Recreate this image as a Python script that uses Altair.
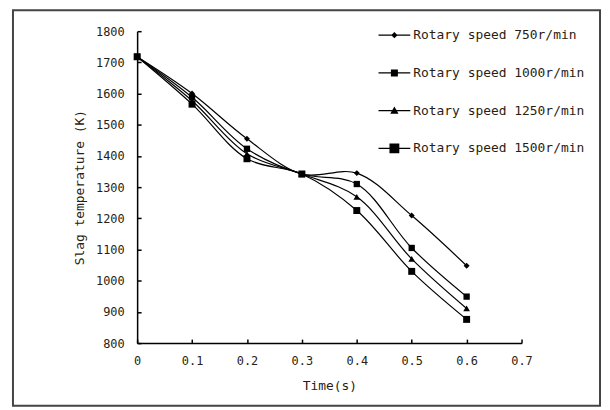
import altair as alt
import pandas as pd

# ---- data ----
times = [0.0, 0.1, 0.2, 0.3, 0.4, 0.5, 0.6]
series = ["Rotary speed 750r/min", "Rotary speed 1000r/min",
          "Rotary speed 1250r/min", "Rotary speed 1500r/min"]
temp_750 = [1718, 1600, 1455, 1342, 1345, 1209, 1048]
temp_1000 = [1718, 1588, 1423, 1342, 1310, 1105, 949]
temp_1250 = [1718, 1577, 1407, 1342, 1269, 1070, 911]
temp_1500 = [1718, 1566, 1391, 1342, 1225, 1030, 876]
x_ticks = [0, 0.1, 0.2, 0.3, 0.4, 0.5, 0.6, 0.7]
y_ticks = [800, 900, 1000, 1100, 1200, 1300, 1400, 1500, 1600, 1700, 1800]

rows = []
for name, vals in zip(series, [temp_750, temp_1000, temp_1250, temp_1500]):
    for t, v in zip(times, vals):
        rows.append({"time": t, "temp": v, "series": name})
df = pd.DataFrame(rows)

W, H = 387, 314
FONT = "DejaVu Sans Mono"
TXT = "#2a1d12"

xs = alt.Scale(domain=[0, 0.7], nice=False, zero=False)
ys = alt.Scale(domain=[800, 1800], nice=False, zero=False)

marker_shapes = ["diamond", "square", "triangle-up", "square"]
marker_sizes = [36, 49, 50, 100]
legend_paths = [
    "M-1,-0.035H1V0.035H-1ZM0,-0.2L0.2,0L0,0.2L-0.2,0Z",
    "M-1,-0.035H1V0.035H-1ZM-0.22,-0.22H0.22V0.22H-0.22Z",
    "M-1,-0.035H1V0.035H-1ZM0,-0.26L0.26,0.2H-0.26Z",
    "M-1,-0.035H1V0.035H-1ZM-0.31,-0.31H0.31V0.31H-0.31Z",
]

base = alt.Chart(df)

lines = base.mark_line(interpolate="catmull-rom", color="black", strokeWidth=1.2).encode(
    x=alt.X("time:Q", scale=xs,
            axis=alt.Axis(orient="bottom", values=x_ticks, format="~g", ticks=False,
                          grid=False, title="Time(s)", labelPadding=13, labelFlush=False,
                          titlePadding=13, domainColor="black", domainWidth=1.5)),
    y=alt.Y("temp:Q", scale=ys,
            axis=alt.Axis(orient="left", values=y_ticks, format="d", ticks=False,
                          grid=False, title="Slag temperature (K)", labelPadding=13,
                          labelFlush=False,
                          titlePadding=9, domainColor="black", domainWidth=1.5)),
    detail="series:N",
)

points = base.mark_point(filled=True, color="black", opacity=1).encode(
    x=alt.X("time:Q", scale=xs,
            axis=alt.Axis(orient="top", offset=-H, values=x_ticks, labels=False,
                          domain=False, grid=False, title=None, tickSize=4,
                          tickColor="black", tickWidth=1.5)),
    y=alt.Y("temp:Q", scale=ys,
            axis=alt.Axis(orient="right", offset=-W, values=y_ticks, labels=False,
                          domain=False, grid=False, title=None, tickSize=4,
                          tickColor="black", tickWidth=1.5)),
    shape=alt.Shape("series:N", scale=alt.Scale(domain=series, range=marker_shapes),
                    legend=None),
    size=alt.Size("series:N", scale=alt.Scale(domain=series, range=marker_sizes),
                  legend=None),
)

legend_layer = base.transform_filter("false").mark_point(
    filled=True, color="black", opacity=1
).encode(
    x=alt.X("time:Q", scale=xs, axis=None),
    y=alt.Y("temp:Q", scale=ys, axis=None),
    shape=alt.Shape(
        "series:N",
        scale=alt.Scale(domain=series, range=legend_paths),
        legend=alt.Legend(
            title=None, orient="none", legendX=242, legendY=-13,
            symbolSize=1024, symbolFillColor="black",
            labelOffset=2, rowPadding=14, padding=0,
            labelFont=FONT, labelFontSize=13, labelColor=TXT, labelLimit=300,
        ),
    ),
)

frame = alt.Chart(pd.DataFrame({"k": [0]})).mark_rect(
    filled=False, stroke="#444444", strokeWidth=2
).encode(
    x=alt.value(-125), x2=alt.value(466), y=alt.value(-21), y2=alt.value(377)
)

chart = alt.layer(frame, lines, points, legend_layer).resolve_scale(
    shape="independent", size="independent"
).resolve_axis(
    x="independent", y="independent"
).properties(
    width=W, height=H,
    autosize=alt.AutoSizeParams(type="none"),
    padding={"left": 130, "top": 22, "right": 81, "bottom": 65},
    background="white",
).configure_view(stroke=None).configure_axis(
    labelFont=FONT, labelFontSize=12, labelColor=TXT,
    titleFont=FONT, titleFontSize=13, titleColor=TXT, titleFontWeight="normal",
)

chart.save("out.html", embed_options={"renderer": "svg", "actions": False})
